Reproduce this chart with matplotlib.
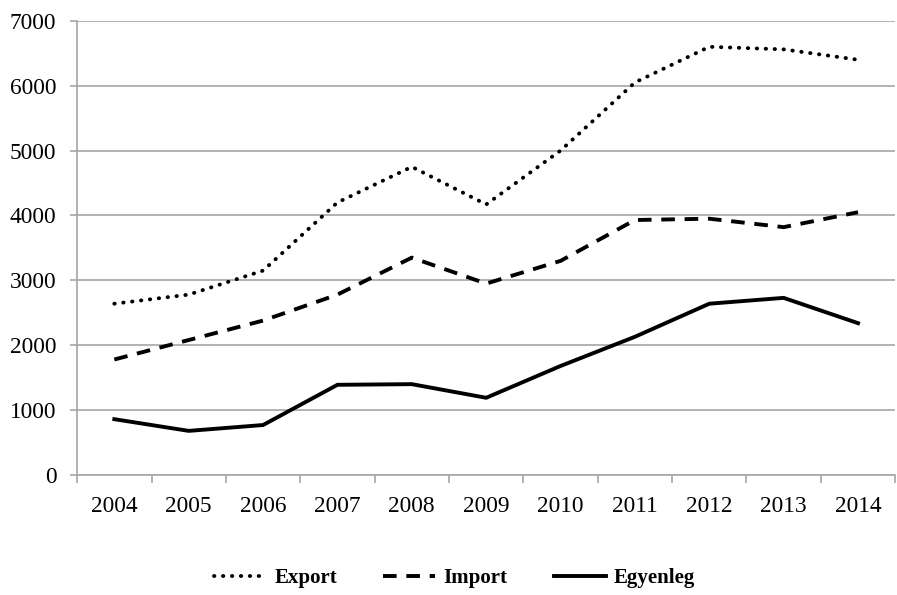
import matplotlib
matplotlib.use("Agg")
import matplotlib.pyplot as plt

years = ["2004", "2005", "2006", "2007", "2008", "2009", "2010", "2011", "2012", "2013", "2014"]
export = [2640, 2780, 3150, 4200, 4750, 4170, 5000, 6050, 6600, 6560, 6400]
import_ = [1780, 2080, 2380, 2780, 3350, 2950, 3300, 3930, 3950, 3820, 4050]
egyenleg = [860, 680, 770, 1390, 1400, 1190, 1680, 2130, 2640, 2730, 2340]

plt.rcParams['font.family'] = ['Liberation Serif', 'DejaVu Serif']

fig = plt.figure(figsize=(8.97, 5.95), dpi=100)
ax = fig.add_axes([0.086, 0.2017, 0.912, 0.7633])

x = list(range(len(years)))
lw = 2.8
ax.plot(x, export, color='black', lw=lw, linestyle=(0, (0.1, 2.2)),
        dash_capstyle='round', solid_capstyle='round', label='Export')
ax.plot(x, import_, color='black', lw=lw, linestyle=(0, (3.5, 2.5)),
        dash_capstyle='butt', label='Import')
ax.plot(x, egyenleg, color='black', lw=lw, linestyle='-', label='Egyenleg')

ax.set_xlim(-0.5, len(years) - 0.5)
ax.set_ylim(0, 7000)
ax.set_yticks(range(0, 7001, 1000))
ax.set_xticks(x)
ax.set_xticklabels(years)
ax.set_xticks([i - 0.5 for i in range(len(years) + 1)], minor=True)

ax.grid(axis='y', color='#a6a6a6', lw=1.2)
ax.set_axisbelow(True)
for s in ['top', 'right']:
    ax.spines[s].set_visible(False)
for s in ['left', 'bottom']:
    ax.spines[s].set_color('#a6a6a6')
    ax.spines[s].set_linewidth(1.2)

ax.tick_params(axis='y', length=5, color='#a6a6a6', width=1.2, labelsize=16.8, pad=10)
ax.tick_params(axis='x', which='major', length=0, labelsize=16.8, pad=15)
ax.tick_params(axis='x', which='minor', length=6, color='#a6a6a6', width=1.2, direction='out')

leg = fig.legend(loc='center', bbox_to_anchor=(0.507, 0.028), ncol=3, frameon=False,
                 prop={'weight': 'bold', 'size': 15}, handlelength=2.5,
                 columnspacing=2.2, handletextpad=0.4)

fig.savefig('out.png', dpi=100)
